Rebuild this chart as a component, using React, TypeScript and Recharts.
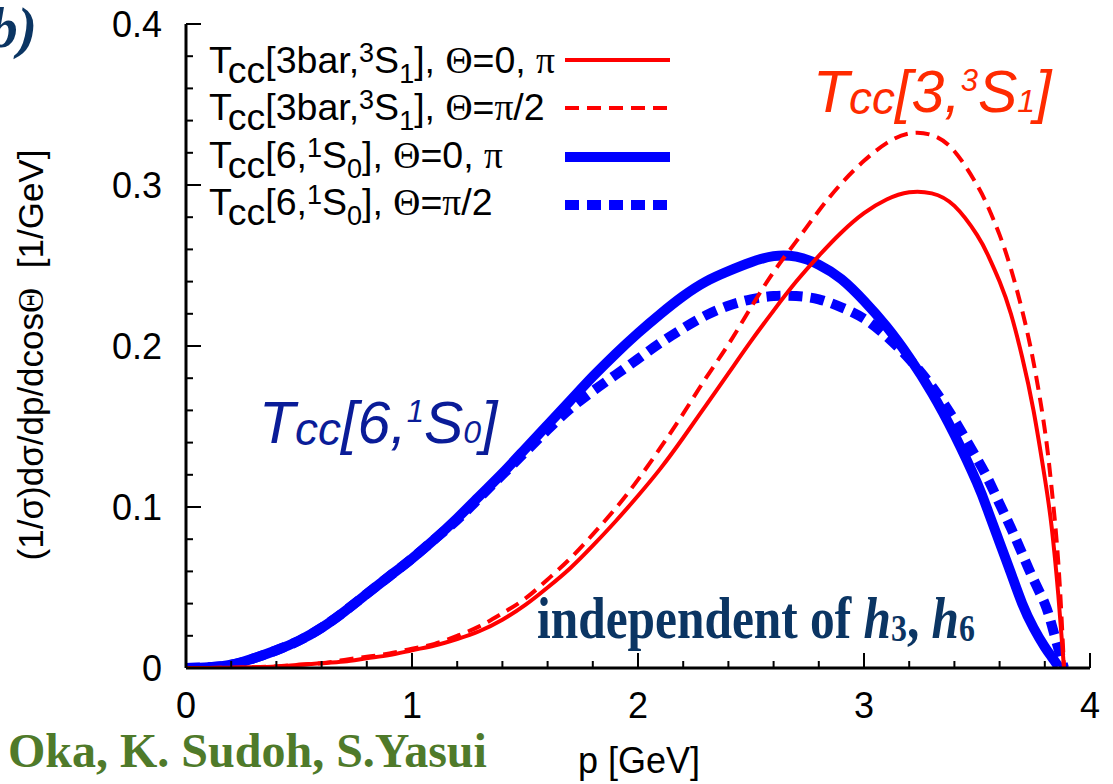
import React from "react";
import { LineChart, Line, XAxis, YAxis } from "recharts";

// ---------- data ----------
const P = [0, 0.1, 0.2, 0.3, 0.4, 0.5, 0.6, 0.7, 0.8, 0.9, 1.0, 1.1, 1.2, 1.3, 1.4, 1.5, 1.6, 1.7, 1.8, 1.9, 2.0, 2.1, 2.2, 2.3, 2.4, 2.5, 2.6, 2.7, 2.8, 2.9, 3.0, 3.1, 3.2, 3.3, 3.4, 3.5, 3.55, 3.6, 3.65, 3.7, 3.75, 3.8, 3.83, 3.86, 3.885];

// Tcc[6, 1S0], Theta = 0, pi (blue solid)
const BLUE_SOLID = [0, 0.0005, 0.002, 0.006, 0.011, 0.017, 0.025, 0.035, 0.046, 0.057, 0.068, 0.08, 0.093, 0.107, 0.121, 0.136, 0.151, 0.166, 0.181, 0.195, 0.208, 0.22, 0.231, 0.24, 0.2465, 0.252, 0.2558, 0.2555, 0.2505, 0.2415, 0.228, 0.212, 0.193, 0.171, 0.145, 0.115, 0.097, 0.078, 0.059, 0.04, 0.025, 0.013, 0.007, 0.001, null];

// Tcc[6, 1S0], Theta = pi/2 (blue dashed)
const BLUE_DASHED = [0, 0.0005, 0.002, 0.006, 0.011, 0.017, 0.025, 0.035, 0.046, 0.057, 0.068, 0.08, 0.092, 0.106, 0.12, 0.134, 0.148, 0.161, 0.172, 0.182, 0.192, 0.202, 0.211, 0.219, 0.225, 0.229, 0.231, 0.231, 0.229, 0.224, 0.217, 0.206, 0.192, 0.175, 0.154, 0.13, 0.117, 0.102, 0.087, 0.071, 0.055, 0.04, 0.027, 0.012, 0];

// Tcc[3bar, 3S1], Theta = 0, pi (red solid)
const RED_SOLID = [0, 0, 0.0002, 0.0005, 0.001, 0.002, 0.003, 0.004, 0.006, 0.008, 0.011, 0.014, 0.018, 0.023, 0.03, 0.039, 0.05, 0.062, 0.076, 0.091, 0.107, 0.124, 0.143, 0.163, 0.183, 0.203, 0.222, 0.24, 0.256, 0.2705, 0.2825, 0.291, 0.2955, 0.2948, 0.287, 0.269, 0.256, 0.24, 0.22, 0.193, 0.16, 0.118, 0.088, 0.045, 0];

// Tcc[3bar, 3S1], Theta = pi/2 (red dashed)
const RED_DASHED = [0, 0, 0.0002, 0.0005, 0.001, 0.002, 0.003, 0.005, 0.007, 0.009, 0.012, 0.015, 0.02, 0.026, 0.034, 0.043, 0.055, 0.068, 0.083, 0.099, 0.117, 0.137, 0.158, 0.18, 0.201, 0.224, 0.246, 0.265, 0.284, 0.301, 0.315, 0.326, 0.332, 0.331, 0.321, 0.3, 0.286, 0.269, 0.248, 0.222, 0.19, 0.148, 0.112, 0.065, 0];

const X_TICKS = [0, 0.2, 0.4, 0.6, 0.8, 1, 1.2, 1.4, 1.6, 1.8, 2, 2.2, 2.4, 2.6, 2.8, 3, 3.2, 3.4, 3.6, 3.8, 4];
const Y_TICKS = [0, 0.02, 0.04, 0.06, 0.08, 0.1, 0.12, 0.14, 0.16, 0.18, 0.2, 0.22, 0.24, 0.26, 0.28, 0.3, 0.32, 0.34, 0.36, 0.38, 0.4];

const rows = P.map((p, i) => ({
  p,
  bs: BLUE_SOLID[i],
  bd: BLUE_DASHED[i],
  rs: RED_SOLID[i],
  rd: RED_DASHED[i],
}));

// ---------- layout / style ----------
const W = 1113;
const H = 784;
const LEFT = 186;
const TOP = 24;
const RIGHT = 1090;
const BOTTOM = 668;
const SANS = "'Liberation Sans', Arial, Helvetica, sans-serif";
const SERIF = "'Liberation Serif', 'Times New Roman', serif";
const RED = "#ff0000";
const BLUE = "#0000ff";
const RED_W = 4;
const BLUE_W = 10;
const DASH = "14 8";
const MAJ = 15;
const MIN = 7;
const FRAME = { stroke: "#000", strokeWidth: 3 };
const CURVE = "natural" as const;

const isInt = (v: number) => Math.abs(v - Math.round(v)) < 1e-6;
const isTenth = (v: number) => Math.abs(v * 10 - Math.round(v * 10)) < 1e-6;

const BottomTick = (props: any) => {
  const { x, payload } = props;
  const v = payload.value;
  const major = isInt(v);
  return (
    <g>
      <line x1={x} x2={x} y1={BOTTOM} y2={BOTTOM - (major ? MAJ : MIN)} stroke="#000" strokeWidth={2} />
      {major && (
        <text x={x} y={BOTTOM + 50} textAnchor="middle" fontSize={36} fontFamily={SANS} fill="#000">
          {String(Math.round(v))}
        </text>
      )}
    </g>
  );
};

const TopTick = (props: any) => {
  const { x, payload } = props;
  const major = isInt(payload.value);
  return (
    <g>
      <line x1={x} x2={x} y1={TOP} y2={TOP + (major ? MAJ : MIN)} stroke="#000" strokeWidth={2} />
    </g>
  );
};

const LeftTick = (props: any) => {
  const { y, payload } = props;
  const v = payload.value;
  const major = isTenth(v);
  return (
    <g>
      <line x1={LEFT} x2={LEFT + (major ? MAJ : MIN)} y1={y} y2={y} stroke="#000" strokeWidth={2} />
      {major && (
        <text x={LEFT - 24} y={y + 13} textAnchor="end" fontSize={36} fontFamily={SANS} fill="#000">
          {v === 0 ? "0" : v.toFixed(1)}
        </text>
      )}
    </g>
  );
};

const RightTick = (props: any) => {
  const { y, payload } = props;
  const major = isTenth(payload.value);
  return (
    <g>
      <line x1={RIGHT} x2={RIGHT - (major ? MAJ : MIN)} y1={y} y2={y} stroke="#000" strokeWidth={2} />
    </g>
  );
};

const legendRows = [
  { color: RED, width: RED_W, dash: undefined as string | undefined },
  { color: RED, width: RED_W, dash: DASH },
  { color: BLUE, width: BLUE_W, dash: undefined as string | undefined },
  { color: BLUE, width: BLUE_W, dash: DASH },
];

const Overlay = () => {
  const lx = 209;
  const base = [73, 120, 168, 215];
  const lineY = [60, 108, 157, 205];
  return (
    <svg width={W} height={H} style={{ position: "absolute", left: 0, top: 0, pointerEvents: "none" }}>
      {/* legend */}
      <g fontFamily={SANS} fontSize={37.5} fill="#000">
        <text x={lx} y={base[0]}>
          T<tspan dy={10}>cc</tspan>
          <tspan dy={-10}>[3bar,</tspan>
          <tspan dy={-11} fontSize={27}>3</tspan>
          <tspan dy={11}>S</tspan>
          <tspan dy={10} fontSize={27}>1</tspan>
          <tspan dy={-10}>], </tspan>
          <tspan fontFamily={SERIF}>Θ</tspan>=0, <tspan fontFamily={SERIF}>π</tspan>
        </text>
        <text x={lx} y={base[1]}>
          T<tspan dy={10}>cc</tspan>
          <tspan dy={-10}>[3bar,</tspan>
          <tspan dy={-11} fontSize={27}>3</tspan>
          <tspan dy={11}>S</tspan>
          <tspan dy={10} fontSize={27}>1</tspan>
          <tspan dy={-10}>], </tspan>
          <tspan fontFamily={SERIF}>Θ</tspan>=<tspan fontFamily={SERIF}>π</tspan>/2
        </text>
        <text x={lx} y={base[2]}>
          T<tspan dy={10}>cc</tspan>
          <tspan dy={-10}>[6,</tspan>
          <tspan dy={-11} fontSize={27}>1</tspan>
          <tspan dy={11}>S</tspan>
          <tspan dy={10} fontSize={27}>0</tspan>
          <tspan dy={-10}>], </tspan>
          <tspan fontFamily={SERIF}>Θ</tspan>=0, <tspan fontFamily={SERIF}>π</tspan>
        </text>
        <text x={lx} y={base[3]}>
          T<tspan dy={10}>cc</tspan>
          <tspan dy={-10}>[6,</tspan>
          <tspan dy={-11} fontSize={27}>1</tspan>
          <tspan dy={11}>S</tspan>
          <tspan dy={10} fontSize={27}>0</tspan>
          <tspan dy={-10}>], </tspan>
          <tspan fontFamily={SERIF}>Θ</tspan>=<tspan fontFamily={SERIF}>π</tspan>/2
        </text>
      </g>
      {legendRows.map((r, i) => (
        <line key={i} x1={565} x2={670} y1={lineY[i]} y2={lineY[i]} stroke={r.color} strokeWidth={r.width} strokeDasharray={r.dash} />
      ))}

      {/* y-axis title */}
      <text
        x={43}
        y={355}
        transform="rotate(-90 43 355)"
        textAnchor="middle"
        fontFamily={SANS}
        fontSize={35}
        fill="#000"
        style={{ whiteSpace: "pre" }}
      >
        (1/σ)dσ/dp/dcos<tspan fontFamily={SERIF}>Θ</tspan>{"  [1/GeV]"}
      </text>

      {/* x-axis title */}
      <text x={639} y={773} textAnchor="middle" fontFamily={SANS} fontSize={36} fill="#000">
        p [GeV]
      </text>

      {/* curve annotations */}
      <text x={813} y={112} fontFamily={SANS} fontStyle="italic" fontSize={59} fill="#ff2a00">
        T<tspan fontSize={46} dy={2}>cc</tspan>
        <tspan dy={-2}>[3,</tspan>
        <tspan fontSize={31} dy={-21}>3</tspan>
        <tspan dy={21}>S</tspan>
        <tspan fontSize={32}>1</tspan>]
      </text>
      <text x={259} y={443} fontFamily={SANS} fontStyle="italic" fontSize={59} fill="#0a1c98">
        T<tspan fontSize={46} dy={2}>cc</tspan>
        <tspan dy={-2}>[6,</tspan>
        <tspan fontSize={31} dy={-21}>1</tspan>
        <tspan dy={21}>S</tspan>
        <tspan fontSize={32}>0</tspan>]
      </text>

      <text
        x={537}
        y={638}
        fontFamily={SERIF}
        fontWeight="bold"
        fontSize={59}
        fill="#0b3563"
        textLength={438}
        lengthAdjust="spacingAndGlyphs"
      >
        independent of <tspan fontStyle="italic">h</tspan>
        <tspan fontSize={38} dy={3}>3</tspan>
        <tspan dy={-3}>, </tspan>
        <tspan fontStyle="italic">h</tspan>
        <tspan fontSize={38} dy={3}>6</tspan>
      </text>

      <text x={8} y={767} fontFamily={SERIF} fontWeight="bold" fontSize={48} fill="#4f7a2a">
        Oka, K. Sudoh, S.Yasui
      </text>

      <text x={37} y={47} textAnchor="end" fontFamily={SERIF} fontWeight="bold" fontStyle="italic" fontSize={58} fill="#0b3563">
        b)
      </text>
    </svg>
  );
};

export default function App() {
  return (
    <div style={{ position: "absolute", left: 0, top: 0, width: W, height: H, background: "#fff", overflow: "hidden" }}>
      <LineChart width={W} height={H} data={rows} margin={{ top: TOP, right: W - RIGHT, bottom: 0, left: 0 }}>
        <XAxis
          xAxisId="b"
          dataKey="p"
          type="number"
          domain={[0, 4]}
          allowDataOverflow
          ticks={X_TICKS}
          interval={0}
          height={H - BOTTOM}
          tickLine={false}
          axisLine={FRAME}
          tick={BottomTick}
        />
        <XAxis
          xAxisId="t"
          orientation="top"
          dataKey="p"
          type="number"
          domain={[0, 4]}
          allowDataOverflow
          ticks={X_TICKS}
          interval={0}
          height={0}
          tickLine={false}
          axisLine={FRAME}
          tick={TopTick}
        />
        <YAxis
          yAxisId="l"
          type="number"
          domain={[0, 0.4]}
          allowDataOverflow
          ticks={Y_TICKS}
          interval={0}
          width={LEFT}
          tickLine={false}
          axisLine={FRAME}
          tick={LeftTick}
        />
        <YAxis
          yAxisId="r"
          orientation="right"
          type="number"
          domain={[0, 0.4]}
          allowDataOverflow
          ticks={Y_TICKS}
          interval={0}
          width={0}
          tickLine={false}
          axisLine={FRAME}
          tick={RightTick}
        />
        <Line xAxisId="b" yAxisId="l" type={CURVE} dataKey="bs" stroke={BLUE} strokeWidth={BLUE_W} dot={false} activeDot={false} isAnimationActive={false} />
        <Line xAxisId="b" yAxisId="l" type={CURVE} dataKey="bd" stroke={BLUE} strokeWidth={BLUE_W} strokeDasharray={DASH} dot={false} activeDot={false} isAnimationActive={false} />
        <Line xAxisId="b" yAxisId="l" type={CURVE} dataKey="rs" stroke={RED} strokeWidth={RED_W} dot={false} activeDot={false} isAnimationActive={false} />
        <Line xAxisId="b" yAxisId="l" type={CURVE} dataKey="rd" stroke={RED} strokeWidth={RED_W} strokeDasharray={DASH} dot={false} activeDot={false} isAnimationActive={false} />
      </LineChart>
      <Overlay />
    </div>
  );
}
